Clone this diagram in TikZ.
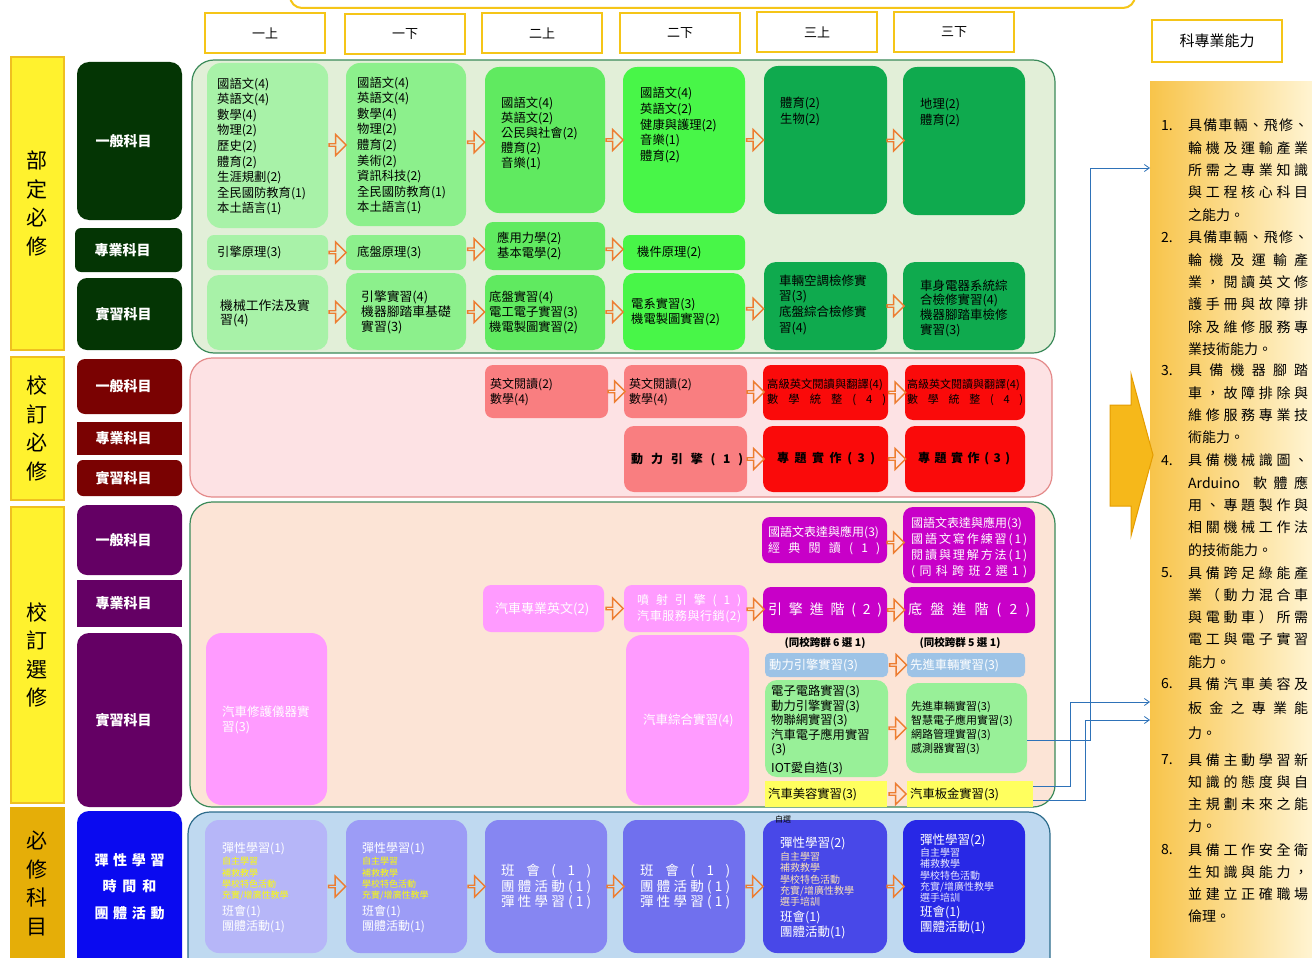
\documentclass[tikz,border=0pt]{standalone}
\usepackage{fontspec}
\setmainfont{Noto Sans CJK TC}
\usetikzlibrary{fit,calc,shapes.arrows,arrows.meta}

\definecolor{ybar}{HTML}{FFF22E}
\definecolor{ybard}{HTML}{EFC020}
\definecolor{gbar}{HTML}{E5AE08}
\definecolor{dgreen}{HTML}{043504}
\definecolor{dred}{HTML}{7A0202}
\definecolor{dpurp}{HTML}{640064}
\definecolor{dblue}{HTML}{0A0AF0}
\definecolor{pG}{HTML}{E2EFD8}
\definecolor{pGd}{HTML}{3B8A5A}
\definecolor{pR}{HTML}{FDE2E4}
\definecolor{pRd}{HTML}{E48A8A}
\definecolor{pP}{HTML}{FCE4D6}
\definecolor{pB}{HTML}{BFD9F0}
\definecolor{pBd}{HTML}{2D6C8C}
\definecolor{g1}{HTML}{A8F2A8}
\definecolor{g2}{HTML}{8CF08C}
\definecolor{g3}{HTML}{60EA60}
\definecolor{g4}{HTML}{48F648}
\definecolor{g5}{HTML}{0FAA4E}
\definecolor{sal}{HTML}{F97E80}
\definecolor{redA}{HTML}{FA0A0A}
\definecolor{purpA}{HTML}{C800C8}
\definecolor{pinkA}{HTML}{FF9BFF}
\definecolor{lblue}{HTML}{9DC3E6}
\definecolor{lgreen}{HTML}{98F098}
\definecolor{lyel}{HTML}{FFFF5E}
\definecolor{b1}{HTML}{B6B6F8}
\definecolor{b2}{HTML}{9C9CF6}
\definecolor{b3}{HTML}{8686F2}
\definecolor{b4}{HTML}{7070EE}
\definecolor{b5}{HTML}{4848E8}
\definecolor{b6}{HTML}{2828E6}
\definecolor{harr}{HTML}{ED7D31}
\definecolor{cconn}{HTML}{2E72B8}
\definecolor{hdr}{HTML}{F5C518}
\definecolor{subY}{HTML}{FFFF00}
\definecolor{subP}{HTML}{FBE3B5}
\definecolor{subL}{HTML}{E8E8FF}
\definecolor{bigA}{HTML}{F6B81A}
\definecolor{bigAd}{HTML}{E49C00}
\definecolor{rpL}{HTML}{F8C44A}
\definecolor{rpR}{HTML}{FFF4D2}

\def\sprdE{sprdEndMarker}
\newcommand\sprd[2]{\makebox[#1][s]{\sprdA#2\sprdE}}
\def\sprdA#1{#1\sprdB}
\def\sprdB#1{\ifx\sprdE#1\else\hfil#1\expandafter\sprdB\fi}
\newcommand\rw[1]{\sprd{120pt}{#1}}
\newcommand\bx[6][]{\node[box,fit={(#3,#4)(#5,#6)},#1] (#2) {};}
\newcommand\harrw[3]{\node[harrow] (#1) at ($(#2.east)!0.5!(#3.west)$) {};}

\begin{document}
\begin{tikzpicture}[x=1pt,y=-1pt,
  box/.style={rounded corners=10pt,inner sep=0pt,draw=none},
  panel/.style={rounded corners=22pt,line width=1.2pt},
  txt/.style={inner sep=0pt,align=left,text=black,anchor=west,font=\fontsize{12.3}{15.6}\selectfont},
  dk/.style={text=white,inner sep=0pt,align=center,font=\bfseries\fontsize{14}{26.5}\selectfont},
  bartxt/.style={inner sep=0pt,align=center,font=\fontsize{21}{28.5}\selectfont},
  hdrbox/.style={draw=hdr,line width=2pt,fill=white,sharp corners},
  harrow/.style={single arrow,draw=harr,line width=1.3pt,inner sep=0pt,minimum height=17pt,minimum width=21pt,single arrow head extend=5pt},
  cline/.style={draw=cconn,line width=0.8pt,-{Straight Barb[length=5pt,width=7pt]}},
  rtxt/.style={inner sep=0pt,align=left,anchor=north west,font=\fontsize{14}{22.3}\selectfont}
]
\useasboundingbox (0,0) rectangle (1312,958);
\fill[white] (0,0) rectangle (1312,958);

% top partial frame
\draw[hdr,line width=2pt,rounded corners=12pt] (290,-20) -- (290,8) -- (1135,8) -- (1135,-20);

% headers
\bx[hdrbox]{H1}{205}{13}{325}{53}
\bx[hdrbox]{H2}{345}{14}{465}{54}
\bx[hdrbox]{H3}{482}{13}{602}{53}
\bx[hdrbox]{H4}{620}{13}{740}{53}
\bx[hdrbox]{H5}{757}{12}{877}{52}
\bx[hdrbox]{H6}{894}{12}{1014}{52}
\bx[hdrbox]{H7}{1152}{20}{1282}{62}
\foreach \n/\t in {H1/一上,H2/一下,H3/二上,H4/二下,H5/三上,H6/三下}
  \node[font=\fontsize{13}{15}\selectfont,inner sep=0pt] (\n t) at (\n) {\t};
\node[font=\fontsize{15}{17}\selectfont,inner sep=0pt] (H7t) at (H7) {科專業能力};

% left yellow bars
\bx[fill=ybar,draw=ybard,line width=2pt,sharp corners]{Y1}{11}{57}{64}{350}
\bx[fill=ybar,draw=ybard,line width=2pt,sharp corners]{Y2}{11}{357}{64}{500}
\bx[fill=ybar,draw=ybard,line width=2pt,sharp corners]{Y3}{11}{507}{64}{803}
\bx[fill=gbar,draw=gbar,line width=2pt,sharp corners]{Y4}{11}{808}{64}{968}
\node[bartxt] (Y1t) at (Y1) {部\\定\\必\\修};
\node[bartxt] (Y2t) at (Y2) {校\\訂\\必\\修};
\node[bartxt] (Y3t) at (Y3) {校\\訂\\選\\修};
\node[bartxt] (Y4t) at (37.5,883.5) {必\\修\\科\\目};

% dark category boxes
\bx[fill=dgreen,rounded corners=12pt]{D1}{77}{62}{182}{220}
\bx[fill=dgreen,rounded corners=6pt]{D2}{75}{228}{182}{272}
\bx[fill=dgreen,rounded corners=10pt]{D3}{77}{278}{182}{350}
\bx[fill=dred,rounded corners=8pt]{D4}{77}{359}{182}{414}
\bx[fill=dred,sharp corners]{D5}{77}{422}{182}{455}
\bx[fill=dred,rounded corners=6pt]{D6}{77}{460}{182}{496}
\bx[fill=dpurp,rounded corners=10pt]{D7}{77}{505}{182}{575}
\bx[fill=dpurp,sharp corners]{D8}{77}{580}{182}{627}
\bx[fill=dpurp,rounded corners=12pt]{D9}{77}{633}{182}{807}
\bx[fill=dblue,rounded corners=12pt]{D10}{77}{811}{182}{975}
\foreach \n/\t in {D1/一般科目,D2/專業科目,D3/實習科目,D4/一般科目,D5/專業科目,D6/實習科目,D7/一般科目,D8/專業科目,D9/實習科目}
  \node[dk] (\n t) at (\n) {\sprd{68pt}{\t}};
\node[dk] (D10t) at (129.5,886.5) {\sprd{70pt}{彈性學習}\\\sprd{54pt}{時間和}\\\sprd{70pt}{團體活動}};

% panels
\bx[panel,fill=pG,draw=pGd]{PG}{192}{60}{1055}{353}
\bx[panel,fill=pR,draw=pRd]{PR}{190}{358}{1052}{497}
\bx[panel,fill=pP,draw=pGd]{PP}{190}{502}{1055}{807}
\bx[panel,fill=pB,draw=pBd]{PB}{188}{812}{1050}{990}

% green boxes
\bx[fill=g1,rounded corners=14pt]{a1}{207}{63}{328}{228}
\bx[fill=g2,rounded corners=14pt]{a2}{346}{63}{466}{226}
\bx[fill=g3,rounded corners=14pt]{a3}{485}{67}{605}{213}
\bx[fill=g4,rounded corners=14pt]{a4}{623}{67}{745}{213}
\bx[fill=g5,rounded corners=14pt]{a5}{764}{66}{887}{214}
\bx[fill=g5,rounded corners=14pt]{a6}{903}{67}{1025}{215}
\bx[fill=g1,rounded corners=7pt]{b1}{207}{235}{328}{270}
\bx[fill=g2,rounded corners=7pt]{b2}{346}{235}{466}{270}
\bx[fill=g3,rounded corners=8pt]{b3}{485}{222}{605}{270}
\bx[fill=g4,rounded corners=7pt]{b4}{623}{235}{745}{270}
\bx[fill=g1,rounded corners=12pt]{c1}{207}{275}{328}{350}
\bx[fill=g2,rounded corners=12pt]{c2}{346}{273}{466}{350}
\bx[fill=g3,rounded corners=12pt]{c3}{485}{275}{605}{350}
\bx[fill=g4,rounded corners=12pt]{c4}{623}{273}{745}{350}
\bx[fill=g5,rounded corners=12pt]{c5}{764}{262}{887}{350}
\bx[fill=g5,rounded corners=12pt]{c6}{903}{262}{1025}{350}

% red boxes
\bx[fill=sal,rounded corners=8pt]{r1}{485}{365}{608}{418}
\bx[fill=sal,rounded corners=8pt]{r2}{624}{365}{747}{418}
\bx[fill=redA,rounded corners=8pt]{r3}{763}{365}{888}{420}
\bx[fill=redA,rounded corners=8pt]{r4}{905}{365}{1025}{420}
\bx[fill=sal,rounded corners=10pt]{r5}{624}{426}{747}{492}
\bx[fill=redA,rounded corners=10pt]{r6}{763}{426}{888}{492}
\bx[fill=redA,rounded corners=10pt]{r7}{905}{426}{1025}{492}

% elective boxes
\bx[fill=purpA,rounded corners=8pt]{p1}{762}{517}{887}{563}
\bx[fill=purpA,rounded corners=10pt]{p2}{903}{507}{1035}{583}
\bx[fill=purpA,rounded corners=8pt]{p3}{763}{587}{887}{633}
\bx[fill=purpA,rounded corners=8pt]{p4}{904}{587}{1035}{633}
\bx[fill=pinkA,rounded corners=16pt]{q1}{206}{633}{327}{805}
\bx[fill=pinkA,rounded corners=8pt]{q2}{483}{585}{604}{632}
\bx[fill=pinkA,rounded corners=8pt]{q3}{624}{585}{747}{632}
\bx[fill=pinkA,rounded corners=16pt]{q4}{626}{635}{749}{805}
\bx[fill=lblue,rounded corners=5pt]{l1}{765}{653}{888}{677}
\bx[fill=lblue,rounded corners=5pt]{l2}{907}{653}{1025}{677}
\bx[fill=lgreen,rounded corners=12pt]{gg5}{765}{680}{888}{777}
\bx[fill=lgreen,rounded corners=12pt]{gg6}{906}{683}{1027}{773}
\bx[fill=lyel,sharp corners]{y5}{765}{781}{887}{807}
\bx[fill=lyel,sharp corners]{y6}{907}{781}{1033}{807}

% blue boxes
\bx[fill=b1,rounded corners=14pt]{u1}{205}{820}{327}{953}
\bx[fill=b2,rounded corners=14pt]{u2}{346}{820}{467}{953}
\bx[fill=b3,rounded corners=14pt]{u3}{485}{820}{607}{953}
\bx[fill=b4,rounded corners=14pt]{u4}{623}{820}{745}{953}
\bx[fill=b5,rounded corners=14pt]{u5}{763}{820}{887}{953}
\bx[fill=b6,rounded corners=14pt]{u6}{903}{820}{1025}{953}

% block arrows
\harrw{A1}{a1}{a2}\harrw{A2}{a2}{a3}\harrw{A3}{a3}{a4}\harrw{A4}{a4}{a5}\harrw{A5}{a5}{a6}
\harrw{B1}{b1}{b2}\harrw{B2}{b2}{b3}\harrw{B3}{b3}{b4}
\harrw{C1}{c1}{c2}\harrw{C2}{c2}{c3}\harrw{C3}{c3}{c4}\harrw{C4}{c4}{c5}\harrw{C5}{c5}{c6}
\harrw{R1}{r1}{r2}\harrw{R2}{r2}{r3}\harrw{R3}{r3}{r4}\harrw{R4}{r5}{r6}\harrw{R5}{r6}{r7}
\harrw{P1}{q2}{q3}\harrw{P2}{q3}{p3}\harrw{P3}{p3}{p4}\harrw{P4}{p1}{p2}
\harrw{P5}{l1}{l2}\harrw{P6}{gg5}{gg6}\harrw{P7}{y5}{y6}
\harrw{U1}{u1}{u2}\harrw{U2}{u2}{u3}\harrw{U3}{u3}{u4}\harrw{U4}{u4}{u5}\harrw{U5}{u5}{u6}

% texts: green panel
\node[txt] (a1t) at (217,146.5) {國語文(4)\\英語文(4)\\數學(4)\\物理(2)\\歷史(2)\\體育(2)\\生涯規劃(2)\\全民國防教育(1)\\本土語言(1)};
\node[txt] (a2t) at (357,145.5) {國語文(4)\\英語文(4)\\數學(4)\\物理(2)\\體育(2)\\美術(2)\\資訊科技(2)\\全民國防教育(1)\\本土語言(1)};
\node[txt,font=\fontsize{12.3}{15}\selectfont] (a3t) at (501,133) {國語文(4)\\英語文(2)\\公民與社會(2)\\體育(2)\\音樂(1)};
\node[txt,font=\fontsize{12.3}{15.8}\selectfont] (a4t) at (640,125) {國語文(4)\\英語文(2)\\健康與護理(2)\\音樂(1)\\體育(2)};
\node[txt,font=\fontsize{12.3}{16}\selectfont] (a5t) at (780,111) {體育(2)\\生物(2)};
\node[txt,font=\fontsize{12.3}{16}\selectfont] (a6t) at (920,113) {地理(2)\\體育(2)};
\node[txt] (b1t) at (217,253) {引擎原理(3)};
\node[txt] (b2t) at (357,253) {底盤原理(3)};
\node[txt] (b3t) at (497,246) {應用力學(2)\\基本電學(2)};
\node[txt] (b4t) at (637,253) {機件原理(2)};
\node[txt,font=\fontsize{12.8}{14}\selectfont] (c1t) at (220,313) {機械工作法及實\\習(4)};
\node[txt,font=\fontsize{12.8}{15}\selectfont] (c2t) at (361,312) {引擎實習(4)\\機器腳踏車基礎\\實習(3)};
\node[txt,font=\fontsize{12.3}{15}\selectfont] (c3t) at (489,312) {底盤實習(4)\\電工電子實習(3)\\機電製圖實習(2)};
\node[txt,font=\fontsize{12.3}{15}\selectfont] (c4t) at (631,312) {電系實習(3)\\機電製圖實習(2)};
\node[txt,font=\fontsize{12.5}{15.7}\selectfont] (c5t) at (779,304.5) {車輛空調檢修實\\習(3)\\底盤綜合檢修實\\習(4)};
\node[txt,font=\fontsize{12.5}{14.7}\selectfont] (c6t) at (920,308) {車身電器系統綜\\合檢修實習(4)\\機器腳踏車檢修\\實習(3)};

% texts: red panel
\node[txt,font=\fontsize{12}{15}\selectfont] (r1t) at (490,392.5) {英文閱讀(2)\\數學(4)};
\node[txt,font=\fontsize{12}{15}\selectfont] (r2t) at (629,392.5) {英文閱讀(2)\\數學(4)};
\node[txt,font=\fontsize{11.3}{15}\selectfont] (r3t) at (767,392.5) {高級英文閱讀與翻譯(4)\\\sprd{119pt}{數學統整(4)}};
\node[txt,font=\fontsize{11}{15}\selectfont] (r4t) at (907,392.5) {高級英文閱讀與翻譯(4)\\\sprd{116pt}{數學統整(4)}};
\node[txt,font=\bfseries\fontsize{12}{15}\selectfont] (r5t) at (631,460) {\sprd{112pt}{動力引擎(1)}};
\node[txt,font=\bfseries\fontsize{12}{15}\selectfont] (r6t) at (777,459) {\sprd{98pt}{專題實作(3)}};
\node[txt,font=\bfseries\fontsize{12}{15}\selectfont] (r7t) at (918,459) {\sprd{92pt}{專題實作(3)}};

% texts: elective panel
\node[txt,text=white,font=\fontsize{12}{16}\selectfont] (p1t) at (768,541) {國語文表達與應用(3)\\\sprd{112pt}{經典閱讀(1)}};
\node[txt,text=white,font=\fontsize{12}{16}\selectfont] (p2t) at (911,548) {國語文表達與應用(3)\\\sprd{116pt}{國語文寫作練習(1)}\\\sprd{116pt}{閱讀與理解方法(1)}\\\sprd{116pt}{(同科跨班2選1)}};
\node[txt,text=white,font=\fontsize{14}{16}\selectfont] (p3t) at (768,610) {\sprd{114pt}{引擎進階(2)}};
\node[txt,text=white,font=\fontsize{14}{16}\selectfont] (p4t) at (908,610) {\sprd{122pt}{底盤進階(2)}};
\node[inner sep=0pt,font=\bfseries\fontsize{10.5}{12}\selectfont] (n1) at (825,643) {(同校跨群 6 選 1)};
\node[inner sep=0pt,font=\bfseries\fontsize{10.5}{12}\selectfont] (n2) at (960,643) {(同校跨群 5 選 1)};
\node[txt,text=white] (l1t) at (769,665) {動力引擎實習(3)};
\node[txt,text=white] (l2t) at (910,665) {先進車輛實習(3)};
\node[txt,anchor=north west,font=\fontsize{12.3}{14.5}\selectfont] (gg5t) at (771,685) {電子電路實習(3)\\動力引擎實習(3)\\物聯網實習(3)\\汽車電子應用實習\\(3)\\[4pt]IOT愛自造(3)};
\node[txt,font=\fontsize{11}{14}\selectfont] (gg6t) at (911,728) {先進車輛實習(3)\\智慧電子應用實習(3)\\網路管理實習(3)\\感測器實習(3)};
\node[txt] (y5t) at (768,794) {汽車美容實習(3)};
\node[txt] (y6t) at (910,794) {汽車板金實習(3)};
\node[txt,text=white,font=\fontsize{12.5}{15}\selectfont] (q1t) at (222,719.5) {汽車修護儀器實\\習(3)};
\node[txt,text=white,font=\fontsize{13}{15}\selectfont] (q2t) at (495,609) {汽車專業英文(2)};
\node[txt,text=white,font=\fontsize{12}{16.5}\selectfont] (q3t) at (637,608.5) {\sprd{104pt}{噴射引擎(1)}\\\sprd{104pt}{汽車服務與行銷(2)}};
\node[txt,text=white,font=\fontsize{12.5}{15}\selectfont] (q4t) at (643,720) {汽車綜合實習(4)};

% texts: blue panel
\node[txt,text=white,font=\fontsize{12}{15}\selectfont] (u1a) at (222,849) {彈性學習(1)};
\node[txt,anchor=north west,text=subY,font=\fontsize{9}{11.3}\selectfont] (u1b) at (222,857) {自主學習\\補救教學\\學校特色活動\\充實/增廣性教學};
\node[txt,anchor=north west,text=white,font=\fontsize{12}{15}\selectfont] (u1c) at (222,905) {班會(1)\\團體活動(1)};
\node[txt,text=white,font=\fontsize{12}{15}\selectfont] (u2a) at (362,849) {彈性學習(1)};
\node[txt,anchor=north west,text=subY,font=\fontsize{9}{11.3}\selectfont] (u2b) at (362,857) {自主學習\\補救教學\\學校特色活動\\充實/增廣性教學};
\node[txt,anchor=north west,text=white,font=\fontsize{12}{15}\selectfont] (u2c) at (362,905) {班會(1)\\團體活動(1)};
\node[txt,text=white,font=\fontsize{13.5}{15.5}\selectfont] (u3t) at (501,887) {\sprd{90pt}{班會(1)}\\\sprd{90pt}{團體活動(1)}\\\sprd{90pt}{彈性學習(1)}};
\node[txt,text=white,font=\fontsize{13.5}{15.5}\selectfont] (u4t) at (640,887) {\sprd{90pt}{班會(1)}\\\sprd{90pt}{團體活動(1)}\\\sprd{90pt}{彈性學習(1)}};
\node[txt,text=white,font=\fontsize{12.5}{15}\selectfont] (u5a) at (780,843) {彈性學習(2)};
\node[txt,anchor=north west,text=subP,font=\fontsize{10}{11.25}\selectfont] (u5b) at (780,852) {自主學習\\補救教學\\學校特色活動\\充實/增廣性教學\\選手培訓};
\node[txt,anchor=north west,text=white,font=\fontsize{12.5}{15}\selectfont] (u5c) at (780,911) {班會(1)\\團體活動(1)};
\node[txt,text=white,font=\fontsize{12.5}{15}\selectfont] (u6a) at (920,840) {彈性學習(2)};
\node[txt,anchor=north west,text=subL,font=\fontsize{10}{11.25}\selectfont] (u6b) at (920,848) {自主學習\\補救教學\\學校特色活動\\充實/增廣性教學\\選手培訓};
\node[txt,anchor=north west,text=white,font=\fontsize{12.5}{15}\selectfont] (u6c) at (920,906) {班會(1)\\團體活動(1)};
\node[inner sep=0pt,font=\fontsize{8}{9}\selectfont] (zx) at (783,819) {自選};

% right panel
\bx[left color=rpL,right color=rpR,sharp corners]{RP}{1150}{82}{1312}{958}
\coordinate (k1) at (1150,168);
\coordinate (k2) at (1150,702);
\coordinate (k3) at (1150,720);
\draw[cline] ([shift={(0,12)}]gg6.east) -- ++(63,0) |- (k1);
\draw[cline] ([shift={(0,-8)}]y6.east) -- ++(37,0) |- (k2);
\draw[cline] ([shift={(0,6)}]y6.east) -- ++(52,0) |- (k3);

% big arrow
\draw[fill=bigA,draw=bigAd,line width=1pt] (1110,405) -- (1131,405) -- (1131,374) -- (1153,455) -- (1131,536) -- (1131,506) -- (1110,506) -- cycle;

\foreach \i/\y in {1/119,2/231,3/364,4/454,5/566,6/677,7/753,8/843}
  \node[rtxt] (N\i) at (1161,\y) {\vphantom{具}\i.};
\node[rtxt] (I1) at (1188,119) {\rw{具備車輛、飛修、}\\\rw{輪機及運輸產業}\\\rw{所需之專業知識}\\\rw{與工程核心科目}\\之能力。};
\node[rtxt] (I2) at (1188,231) {\rw{具備車輛、飛修、}\\\rw{輪機及運輸產}\\\rw{業，閱讀英文修}\\\rw{護手冊與故障排}\\\rw{除及維修服務專}\\業技術能力。};
\node[rtxt] (I3) at (1188,364) {\rw{具備機器腳踏}\\\rw{車，故障排除與}\\\rw{維修服務專業技}\\術能力。};
\node[rtxt] (I4) at (1188,454) {\rw{具備機械識圖、}\\\makebox[120pt][s]{Arduino\hfil\hfil 軟\hfil 體\hfil 應}\\\rw{用、專題製作與}\\\rw{相關機械工作法}\\的技術能力。};
\node[rtxt] (I5) at (1188,566) {\rw{具備跨足綠能產}\\\rw{業（動力混合車}\\\rw{與電動車）所需}\\\rw{電工與電子實習}\\能力。};
\node[rtxt] (I6) at (1188,677) {\rw{具備汽車美容及}\\[2.5pt]\rw{板金之專業能}\\[2.5pt]力。};
\node[rtxt] (I7) at (1188,753) {\rw{具備主動學習新}\\\rw{知識的態度與自}\\\rw{主規劃未來之能}\\力。};
\node[rtxt] (I8) at (1188,843) {\rw{具備工作安全衛}\\\rw{生知識與能力，}\\\rw{並建立正確職場}\\倫理。};
\end{tikzpicture}
\end{document}
